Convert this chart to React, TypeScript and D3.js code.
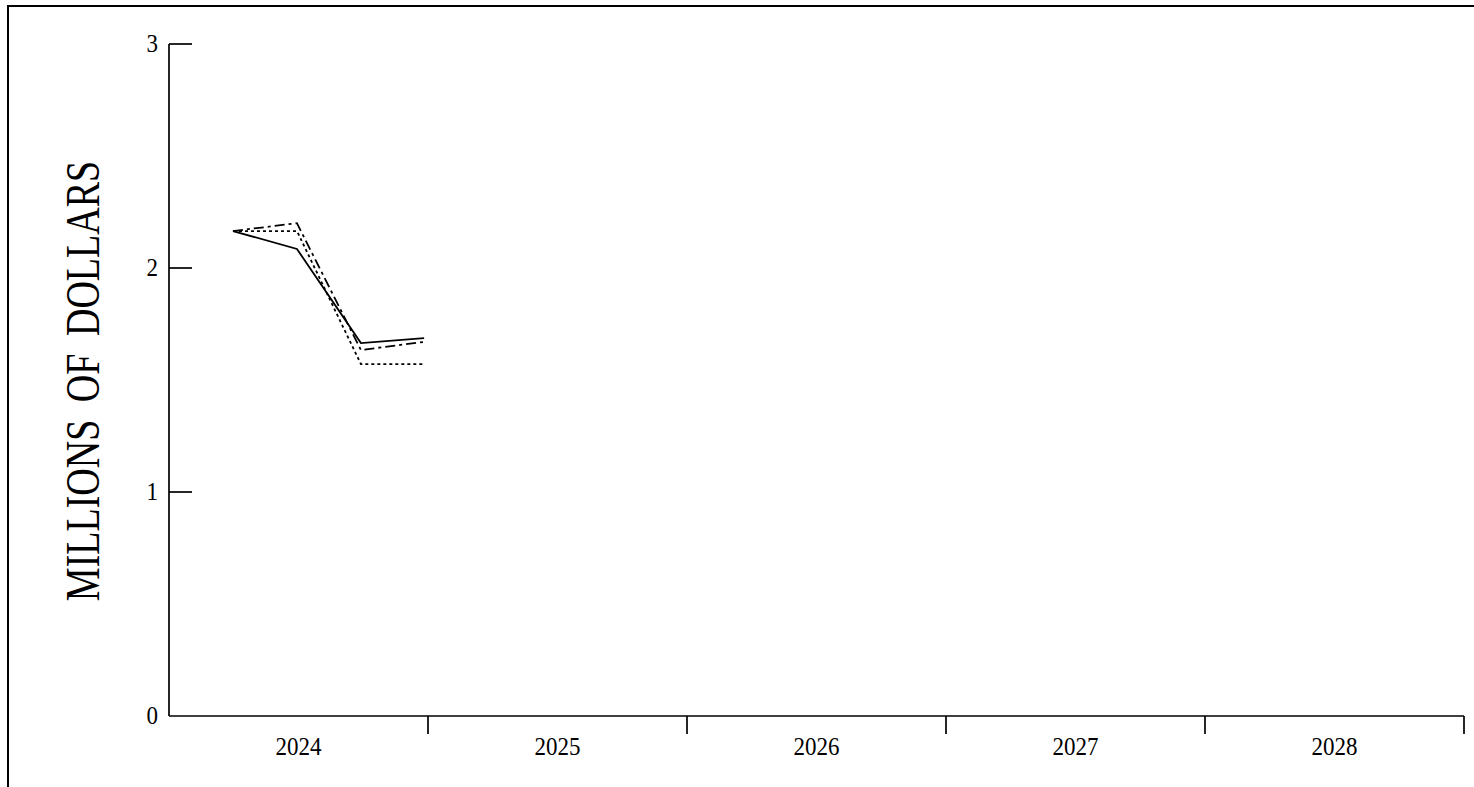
import React from "react";
import * as d3 from "d3";

const years = [2024, 2025, 2026, 2027, 2028];
const yTicks = [0, 1, 2, 3];
const xPoints = [2024.247, 2024.494, 2024.741, 2024.985];
const seriesSolid = [2.165, 2.085, 1.665, 1.687];
const seriesDashDot = [2.165, 2.2, 1.634, 1.67];
const seriesDotted = [2.165, 2.165, 1.571, 1.571];
const seriesNames = ["solid", "dashdot", "dotted"];

const W = 1474;
const H = 787;
const X0 = 169;
const X1 = 1464;
const Y0 = 716;
const Y1 = 44;
const FONT = "'Liberation Serif', 'Times New Roman', serif";

export default function App() {
  const x = d3.scaleLinear().domain([2024, 2029]).range([X0, X1]);
  const y = d3.scaleLinear().domain([0, 3]).range([Y0, Y1]);
  const line = d3
    .line<[number, number]>()
    .x((d) => x(d[0]))
    .y((d) => y(d[1]));
  const series = [
    { name: seriesNames[0], values: seriesSolid, dash: undefined as string | undefined },
    { name: seriesNames[1], values: seriesDashDot, dash: "10,4,3,4" },
    { name: seriesNames[2], values: seriesDotted, dash: "3,3" },
  ];
  const boundaries = d3.range(2025, 2030);
  return (
    <svg
      width={W}
      height={H}
      style={{ position: "fixed", left: 0, top: 0, display: "block", background: "#fff" }}
    >
      <rect x={8} y={6} width={W + 100} height={H + 100} fill="none" stroke="#000" strokeWidth={2} />
      {/* y axis */}
      <line x1={X0} x2={X0} y1={y(3)} y2={y(0)} stroke="#000" strokeWidth={1.7} />
      {yTicks.map((t) => (
        <g key={t}>
          {t > 0 && (
            <line x1={X0} x2={X0 + 23} y1={y(t)} y2={y(t)} stroke="#000" strokeWidth={1.7} />
          )}
          <text
            transform={`translate(${X0 - 11}, ${y(t) + 8}) scale(1, 1.1)`}
            textAnchor="end"
            fontFamily={FONT}
            fontSize={23}
            fill="#000"
          >
            {t}
          </text>
        </g>
      ))}
      {/* x axis */}
      <line x1={X0} x2={X1} y1={Y0} y2={Y0} stroke="#000" strokeWidth={1.7} />
      {boundaries.map((b) => (
        <line key={b} x1={x(b)} x2={x(b)} y1={Y0} y2={Y0 + 18} stroke="#000" strokeWidth={1.7} />
      ))}
      {years.map((yr) => (
        <text
          key={yr}
          transform={`translate(${x(yr + 0.5)}, 755) scale(1, 1.1)`}
          textAnchor="middle"
          fontFamily={FONT}
          fontSize={23}
          fill="#000"
        >
          {yr}
        </text>
      ))}
      {/* title */}
      <text
        transform={`translate(99, ${y(1.5) + 1}) rotate(-90) scale(1, 1.3)`}
        textAnchor="middle"
        fontFamily={FONT}
        fontSize={38}
        fill="#000"
        style={{ whiteSpace: "pre", wordSpacing: "8px" }}
      >
        {"MILLIONS OF DOLLARS"}
      </text>
      {/* lines */}
      {series.map((s) => (
        <path
          key={s.name}
          d={line(xPoints.map((xv, i) => [xv, s.values[i]] as [number, number])) || ""}
          fill="none"
          stroke="#000"
          strokeWidth={1.8}
          strokeDasharray={s.dash}
        />
      ))}
    </svg>
  );
}
